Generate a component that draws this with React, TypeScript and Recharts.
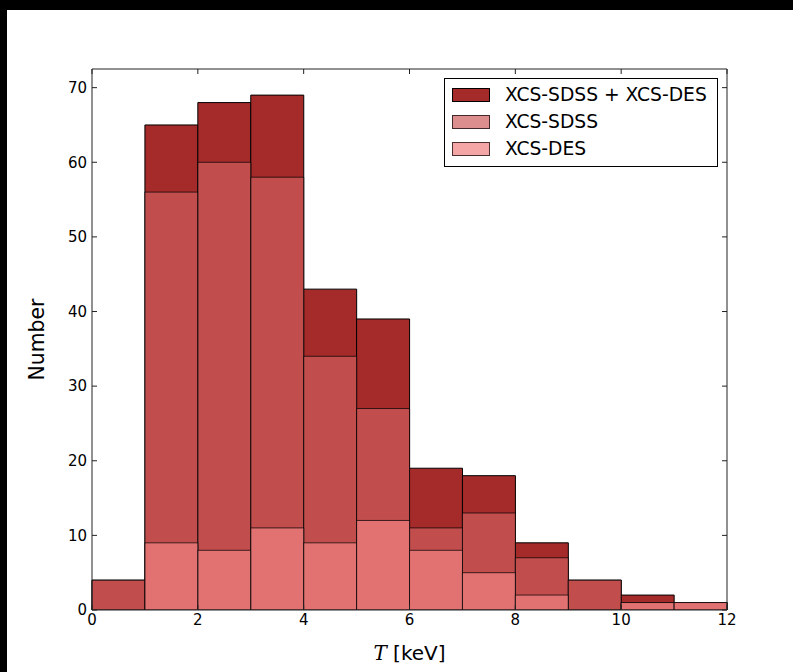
import React from 'react';
import { BarChart, Bar, XAxis, YAxis, Legend, Label } from 'recharts';

const binStarts = [0, 1, 2, 3, 4, 5, 6, 7, 8, 9, 10, 11];
const combinedCounts = [4, 65, 68, 69, 43, 39, 19, 18, 9, 4, 2, 1];
const sdssCounts = [4, 56, 60, 58, 34, 27, 11, 13, 7, 4, 1, 1];
const desCounts = [0, 9, 8, 11, 9, 12, 8, 5, 2, 0, 1, 1];
const xTicks = [0, 2, 4, 6, 8, 10, 12];
const yTicks = [0, 10, 20, 30, 40, 50, 60, 70];
const seriesNames = ['XCS-SDSS + XCS-DES', 'XCS-SDSS', 'XCS-DES'];

const data = binStarts.map((s, i) => ({
  bin: s + 0.5,
  label: String(s),
  combined: combinedCounts[i],
  sdss: sdssCounts[i],
  des: desCounts[i],
}));

const FONT = '"DejaVu Sans", sans-serif';

const legendStyles = [
  { fill: 'rgb(165,42,42)', border: 'rgb(0,0,0)' },
  { fill: 'rgba(205,92,92,0.7)', border: 'rgba(0,0,0,0.7)' },
  { fill: 'rgba(240,128,128,0.7)', border: 'rgba(0,0,0,0.7)' },
];

const LegendBox = () => (
  <div
    style={{
      position: 'relative',
      width: 274,
      height: 89,
      boxSizing: 'border-box',
      border: '1px solid #000',
      background: '#fff',
      fontFamily: FONT,
    }}
  >
    {seriesNames.map((name, i) => (
      <div key={name}>
        <div
          style={{
            position: 'absolute',
            left: 7,
            top: 9 + i * 27,
            width: 38,
            height: 14,
            boxSizing: 'border-box',
            background: legendStyles[i].fill,
            border: `1px solid ${legendStyles[i].border}`,
          }}
        />
        <div
          style={{
            position: 'absolute',
            left: 60,
            top: 16 + i * 27 - 12,
            height: 24,
            lineHeight: '24px',
            fontSize: 18.7,
            color: '#000',
            whiteSpace: 'nowrap',
          }}
        >
          {name}
        </div>
      </div>
    ))}
  </div>
);

const tickStyle = { fontSize: 15, fill: '#000', fontFamily: FONT };
const noLabel = () => '';

export default function App() {
  return (
    <div
      style={{
        position: 'fixed',
        left: 0,
        top: 0,
        width: 793,
        height: 672,
        background: '#000',
        overflow: 'hidden',
      }}
    >
      <div
        style={{
          position: 'absolute',
          left: 7,
          top: 10,
          width: 786,
          height: 662,
          background: '#fff',
        }}
      >
        <BarChart
          width={786}
          height={662}
          data={data}
          margin={{ top: 58, right: 65, bottom: 0, left: 0 }}
          barCategoryGap={0}
          barGap={0}
          style={{ fontFamily: FONT }}
        >
          <XAxis
            xAxisId="num"
            type="number"
            dataKey="bin"
            domain={[0, 12]}
            ticks={xTicks}
            allowDataOverflow
            height={62}
            stroke="#222"
            tickSize={-5}
            tickMargin={9}
            tick={tickStyle}
          >
            <Label
              content={(props: any) => {
                const vb = props.viewBox || {};
                return (
                  <text
                    x={vb.x + vb.width / 2}
                    y={vb.y + 50}
                    textAnchor="middle"
                    fontSize={20}
                    fill="#000"
                    fontFamily={FONT}
                  >
                    <tspan fontFamily='"DejaVu Serif", serif' fontStyle="italic">T</tspan>
                    <tspan> [keV]</tspan>
                  </text>
                );
              }}
            />
          </XAxis>
          <XAxis xAxisId="c" dataKey="label" hide height={0} />
          <XAxis xAxisId="s" dataKey="label" hide height={0} />
          <XAxis xAxisId="d" dataKey="label" hide height={0} />
          <XAxis
            xAxisId="top"
            orientation="top"
            type="number"
            dataKey="bin"
            domain={[0, 12]}
            ticks={xTicks}
            allowDataOverflow
            height={1}
            stroke="#222"
            tickSize={-5}
            tickFormatter={noLabel}
          />
          <YAxis
            type="number"
            domain={[0, 72.5]}
            ticks={yTicks}
            allowDataOverflow
            width={85}
            stroke="#222"
            tickSize={-5}
            tickMargin={10}
            tick={tickStyle}
          >
            <Label
              content={(props: any) => {
                const vb = props.viewBox || {};
                const cx = vb.x + 30;
                const cy = vb.y + vb.height / 2;
                return (
                  <text
                    x={cx}
                    y={cy}
                    textAnchor="middle"
                    dominantBaseline="central"
                    fontSize={20.4}
                    fill="#000"
                    fontFamily={FONT}
                    transform={`rotate(-90 ${cx} ${cy})`}
                  >
                    Number
                  </text>
                );
              }}
            />
          </YAxis>
          <YAxis
            yAxisId="r"
            orientation="right"
            type="number"
            domain={[0, 72.5]}
            ticks={yTicks}
            allowDataOverflow
            width={1}
            stroke="#222"
            tickSize={-5}
            tickFormatter={noLabel}
          />
          <Bar
            xAxisId="c"
            dataKey="combined"
            name={seriesNames[0]}
            fill="#a52a2a"
            stroke="#000"
            strokeWidth={1}
            isAnimationActive={false}
          />
          <Bar
            xAxisId="s"
            dataKey="sdss"
            name={seriesNames[1]}
            fill="#cd5c5c"
            fillOpacity={0.7}
            stroke="#000"
            strokeOpacity={0.7}
            strokeWidth={1}
            isAnimationActive={false}
          />
          <Bar
            xAxisId="d"
            dataKey="des"
            name={seriesNames[2]}
            fill="#f08080"
            fillOpacity={0.7}
            stroke="#000"
            strokeOpacity={0.7}
            strokeWidth={1}
            isAnimationActive={false}
          />
          <Legend
            layout="vertical"
            align="center"
            verticalAlign="middle"
            wrapperStyle={{ position: 'absolute', left: 437, top: 68, width: 274, height: 89 }}
            content={() => <LegendBox />}
          />
        </BarChart>
      </div>
    </div>
  );
}
